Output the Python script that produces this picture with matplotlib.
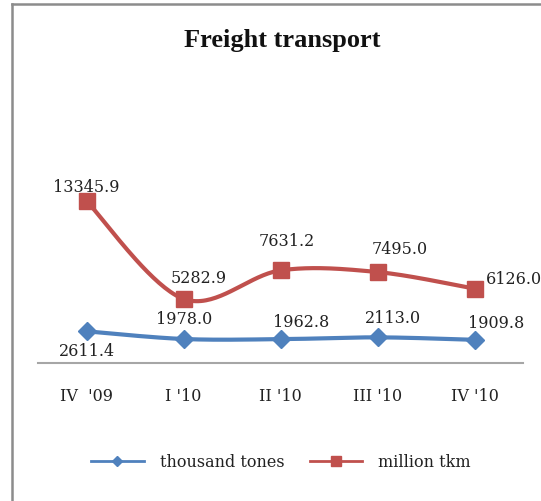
import numpy as np
import matplotlib
matplotlib.use("Agg")
import matplotlib.pyplot as plt
from matplotlib.lines import Line2D

categories = ["IV  '09", "I '10", "II '10", "III '10", "IV '10"]
thousand_tones = [2611.4, 1978.0, 1962.8, 2113.0, 1909.8]
million_tkm = [13345.9, 5282.9, 7631.2, 7495.0, 6126.0]
series_names = ["thousand tones", "million tkm"]
title = "Freight transport"

BLUE = "#4F81BD"
RED = "#C0504D"

W, H = 541, 502
fig = plt.figure(figsize=(W / 100, H / 100), dpi=100)
fig.patch.set_facecolor("white")

def fx(px):
    return px / W

def fy(py):
    return 1 - py / H

ax_left, ax_right, ax_top, ax_bottom = 38, 523, 80, 364
ax = fig.add_axes([fx(ax_left), fy(ax_bottom), (ax_right - ax_left) / W, (ax_bottom - ax_top) / H])
ax.set_xlim(-0.5, len(categories) - 0.5)
ax.set_ylim(0, 23400)
for s in ["top", "right", "left"]:
    ax.spines[s].set_visible(False)
ax.spines["bottom"].set_color("#A6A6A6")
ax.spines["bottom"].set_linewidth(1.5)
ax.set_yticks([])
ax.set_xticks(range(len(categories)))
ax.set_xticklabels(categories, family="DejaVu Serif", fontsize=11.5, color="#222222")
ax.tick_params(axis="x", length=0, pad=17)
ax.set_facecolor("none")


def smooth(xs, ys, n=40):
    xs = np.asarray(xs, float)
    ys = np.asarray(ys, float)
    P = np.column_stack([xs, ys])
    Pext = np.vstack([P[0], P, P[-1]])
    out = []
    for i in range(len(P) - 1):
        p0, p1, p2, p3 = Pext[i], Pext[i + 1], Pext[i + 2], Pext[i + 3]
        c1 = p1 + (p2 - p0) / 6
        c2 = p2 - (p3 - p1) / 6
        t = np.linspace(0, 1, n)[:, None]
        b = (1 - t) ** 3 * p1 + 3 * (1 - t) ** 2 * t * c1 + 3 * (1 - t) * t ** 2 * c2 + t ** 3 * p2
        out.append(b if i == 0 else b[1:])
    out = np.vstack(out)
    return out[:, 0], out[:, 1]

x = np.arange(len(categories))
for vals, color, marker, ms in [(thousand_tones, BLUE, "D", 9.5), (million_tkm, RED, "s", 11.5)]:
    sx, sy = smooth(x, vals)
    ax.plot(sx, sy, color=color, lw=3, solid_capstyle="round", clip_on=False, zorder=2)
    ax.plot(x, vals, linestyle="none", marker=marker, ms=ms, color=color,
            markeredgecolor=color, clip_on=False, zorder=3)

# data labels (offsets in pixels)
red_off = [(0, 15, "center"), (15, 21, "center"), (6, 30, "center"), (22, 24, "center"), (11, 10, "left")]
blue_off = [(1, -19, "center"), (1, 20, "center"), (21, 18, "center"), (15, 20, "center"), (22, 17, "center")]
for vals, offs in [(million_tkm, red_off), (thousand_tones, blue_off)]:
    for i, v in enumerate(vals):
        dx, dy, ha = offs[i]
        ax.annotate(f"{v:.1f}", (i, v), xytext=(dx, dy), textcoords="offset pixels",
                    ha=ha, va="center", family="DejaVu Serif", fontsize=11.5,
                    color="#222222", annotation_clip=False)

# legend
handles = [Line2D([], [], color=BLUE, lw=2, marker="D", ms=5.5),
           Line2D([], [], color=RED, lw=2, marker="s", ms=7)]
fig.legend(handles, series_names, loc="center", bbox_to_anchor=(fx(281), fy(463)),
           ncol=2, frameon=False, handlelength=3.3, handletextpad=1.0,
           columnspacing=1.6, prop={"family": "DejaVu Serif", "size": 11.5},
           labelcolor="#222222")

fig.text(fx(282), fy(40), title, ha="center", va="center",
         family="Liberation Serif", fontweight="bold", fontsize=19, color="#111111")

# chart frame (left and top edges visible)
fig.add_artist(Line2D([fx(12), fx(12)], [fy(5), fy(H + 5)], color="#8C8C8C", lw=1.8,
                      transform=fig.transFigure))
fig.add_artist(Line2D([fx(12), fx(W + 5)], [fy(5), fy(5)], color="#8C8C8C", lw=1.8,
                      transform=fig.transFigure))

fig.savefig("out.png", dpi=100)
